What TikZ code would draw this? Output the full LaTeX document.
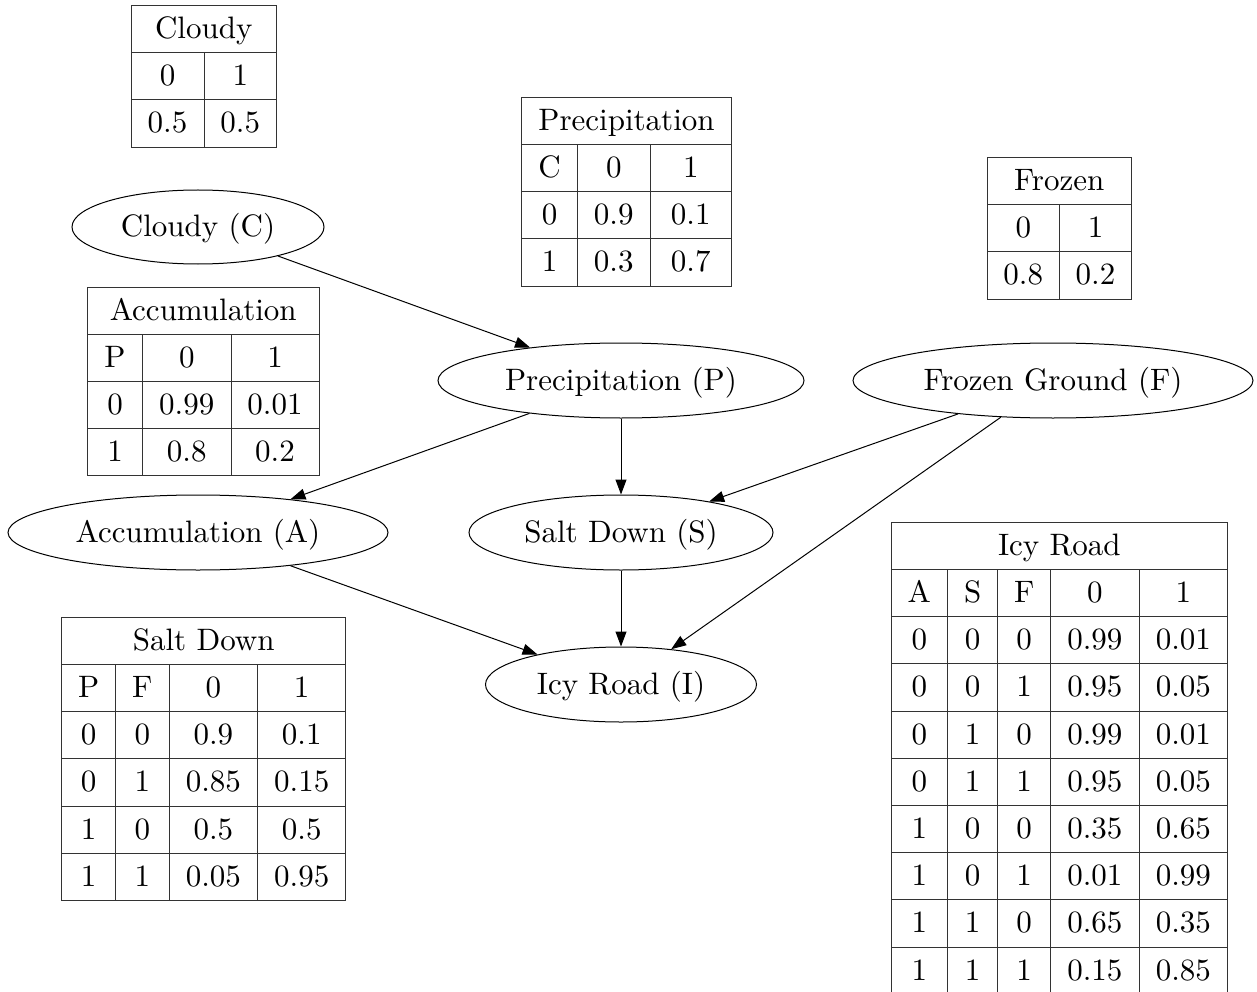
\documentclass[tikz,border=0pt]{standalone}
\usepackage{graphicx}
\usetikzlibrary{arrows.meta,shapes.geometric}

% text set at 10pt design size, then enlarged
\newcommand\tx[1]{\scalebox{3.1}{#1}}

% conditional probability table
% #1 column edges, #2 top edge, #3 title, #4 rows (list of lists)
\newcommand\cpt[4]{%
  \pgfmathsetmacro\cptleft{{#1}[0]}%
  \foreach \e [count=\n] in {#1} {\xdef\cptright{\e}\xdef\cptn{\n}}%
  \foreach \rw [count=\r] in {#4} {\xdef\cptrows{\r}}%
  \pgfmathsetmacro\cptbot{#2+\rowh*(\cptrows+1)}%
  \draw[tbl] (\cptleft,#2) rectangle (\cptright,\cptbot);
  \node[cell] at ({(\cptleft+\cptright)/2},{#2+\baseoff}) {\tx{#3}};
  \foreach \rw [count=\r] in {#4} {
    \pgfmathsetmacro\ytop{#2+\rowh*\r}
    \draw[tbl] (\cptleft,\ytop) -- (\cptright,\ytop);
    \foreach \cc [count=\k] in \rw {
      \pgfmathsetmacro\xl{{#1}[\k-1]}
      \pgfmathsetmacro\xr{{#1}[\k]}
      \node[cell] at ({(\xl+\xr)/2},{\ytop+\baseoff}) {\tx{\cc}};
    }
  }
  \foreach \e [count=\n] in {#1} {
    \ifnum\n>1 \ifnum\n<\cptn
      \draw[tbl] (\e,{#2+\rowh}) -- (\e,\cptbot);
    \fi\fi
  }
}

\begin{document}
\begin{tikzpicture}[x=1pt,y=-1pt,
    tbl/.style={draw=black!80,line width=1pt},
    cell/.style={anchor=base,inner sep=0pt},
    var/.style={draw,ellipse,line width=1pt,inner sep=0pt,
                text height=27.5pt,text depth=7.75pt},
    link/.style={line width=1pt,-{Triangle[length=15pt,width=11pt]}}]
\def\rowh{47.2}
\def\baseoff{33}
\useasboundingbox (0,0) rectangle (1257,992);

% variables
\node[var,minimum width=252pt,minimum height=74pt] (C) at (198,227)   {\tx{Cloudy (C)}};
\node[var,minimum width=366pt,minimum height=75pt] (P) at (621,380.5) {\tx{Precipitation (P)}};
\node[var,minimum width=400pt,minimum height=75pt] (F) at (1053,380.5){\tx{Frozen Ground (F)}};
\node[var,minimum width=380pt,minimum height=75pt] (A) at (198,532.5) {\tx{Accumulation (A)}};
\node[var,minimum width=304pt,minimum height=75pt] (S) at (621,532.5) {\tx{Salt Down (S)}};
\node[var,minimum width=271pt,minimum height=75pt] (I) at (621,684.5) {\tx{Icy Road (I)}};

% dependencies
\draw[link] (C) -- (P);
\draw[link] (P) -- (A);
\draw[link] (P) -- (S);
\draw[link] (F) -- (S);
\draw[link] (F) -- (I);
\draw[link] (A) -- (I);
\draw[link] (S) -- (I);

% probability tables
\cpt{131,204,276.5}{5.5}{Cloudy}{{0,1},{0.5,0.5}}
\cpt{521.5,577.5,650,731.5}{97.3}{Precipitation}{{C,0,1},{0,0.9,0.1},{1,0.3,0.7}}
\cpt{987,1059.5,1131.5}{157.5}{Frozen}{{0,1},{0.8,0.2}}
\cpt{87.5,142.5,231,319}{287}{Accumulation}{{P,0,1},{0,0.99,0.01},{1,0.8,0.2}}
\cpt{61.7,115.7,169,257.7,345.7}{617.3}{Salt Down}{{P,F,0,1},{0,0,0.9,0.1},{0,1,0.85,0.15},{1,0,0.5,0.5},{1,1,0.05,0.95}}
\cpt{891,947.7,997.7,1050.7,1139,1227.7}{522.3}{Icy Road}{{A,S,F,0,1},{0,0,0,0.99,0.01},{0,0,1,0.95,0.05},{0,1,0,0.99,0.01},{0,1,1,0.95,0.05},{1,0,0,0.35,0.65},{1,0,1,0.01,0.99},{1,1,0,0.65,0.35},{1,1,1,0.15,0.85}}
\end{tikzpicture}
\end{document}
